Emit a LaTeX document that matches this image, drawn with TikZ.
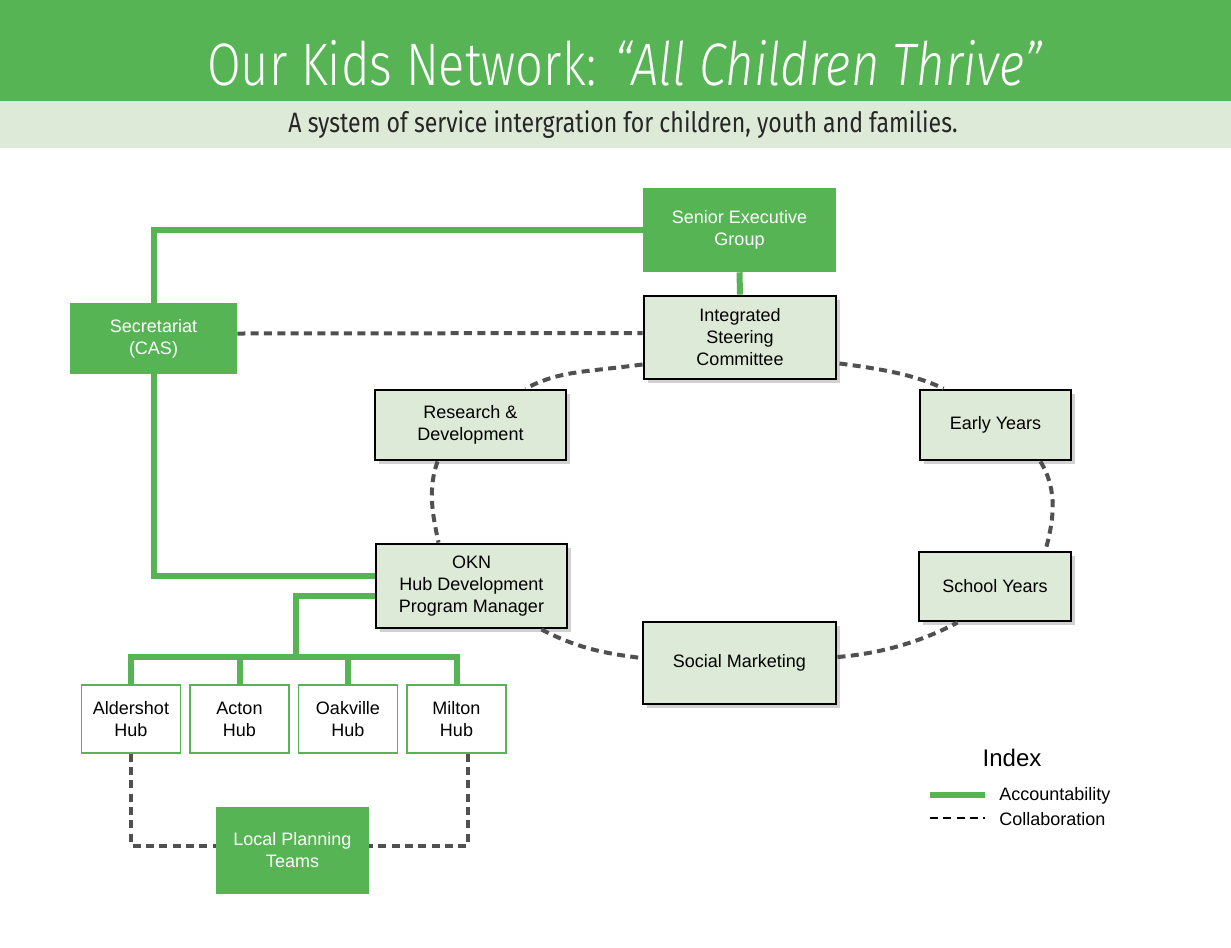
\documentclass[tikz,border=0pt]{standalone}
\usepackage{fontspec}
\setmainfont{Liberation Sans}
\newfontfamily\titlefont[FakeStretch=0.815]{Fira Sans Light}
\newfontfamily\subfont[FakeStretch=0.825]{Fira Sans}
\usetikzlibrary{shadows,calc}
\definecolor{okgreen}{RGB}{87,180,85}
\definecolor{oklight}{RGB}{222,234,216}
\definecolor{dashgray}{RGB}{80,80,80}
\begin{document}
\begin{tikzpicture}[x=0.75pt,y=-0.75pt,
  boxfont/.style={font=\fontsize{13.5}{16.5}\selectfont},
  greenbox/.style={boxfont, fill=okgreen, text=white, draw=none, align=center, inner sep=0pt},
  lightbox/.style={boxfont, fill=oklight, draw=black, line width=2.2pt, align=center, inner sep=0pt,
    drop shadow={shadow xshift=3pt, shadow yshift=-3pt, opacity=0.18, fill=black}},
  hubbox/.style={boxfont, fill=white, draw=okgreen, line width=1.1pt, align=center, inner sep=0pt,
    minimum width={99*0.75pt}, minimum height={68*0.75pt}},
  acc/.style={draw=okgreen, line width=4.5pt},
  col/.style={draw=dashgray, line width=3pt, dash pattern=on 6pt off 4pt},
  legcol/.style={draw=black, line width=2pt, dash pattern=on 6pt off 4pt},
]
\useasboundingbox (0,0) rectangle (1231,947);
\fill[white] (0,0) rectangle (1231,947);
\fill[okgreen] (0,0) rectangle (1231,101);
\fill[oklight] (0,101) rectangle (1231,148);

\node[anchor=base, text=white, inner sep=0pt, font=\titlefont\fontsize{45}{50}\selectfont] (title) at (625,85)
  {Our Kids Network: \textit{“All Children Thrive”}};
\node[anchor=base, text=black!85, inner sep=0pt, font=\subfont\fontsize{21}{24}\selectfont] (sub) at (623,132)
  {A system of service intergration for children, youth and families.};

% boxes
\node[greenbox, minimum width={193*0.75pt}, minimum height={84*0.75pt}] (seg) at (739.5,230) {Senior Executive\\Group};
\node[lightbox, minimum width={192*0.75pt}, minimum height={83*0.75pt}] (isc) at (740,337.5) {Integrated\\Steering\\Committee};
\node[greenbox, minimum width={167*0.75pt}, minimum height={71*0.75pt}] (sec) at (153.5,338.5) {Secretariat\\(CAS)};
\node[lightbox, minimum width={191*0.75pt}, minimum height={70*0.75pt}] (rd) at (470.5,425) {Research \&\\Development};
\node[lightbox, minimum width={151*0.75pt}, minimum height={70*0.75pt}] (ey) at (995.5,425) {Early Years};
\node[lightbox, minimum width={191*0.75pt}, minimum height={84*0.75pt}] (okn) at (471.5,586) {OKN\\Hub Development\\Program Manager};
\node[lightbox, minimum width={152*0.75pt}, minimum height={69*0.75pt}] (sy) at (995,586.5) {School Years};
\node[lightbox, minimum width={193*0.75pt}, minimum height={82*0.75pt}] (sm) at (739.5,663) {Social Marketing};
\node[hubbox] (ald) at (131,719) {Aldershot\\Hub};
\node[hubbox] (act) at (239.5,719) {Acton\\Hub};
\node[hubbox] (oak) at (348,719) {Oakville\\Hub};
\node[hubbox] (mil) at (456.5,719) {Milton\\Hub};
\node[greenbox, minimum width={153*0.75pt}, minimum height={87*0.75pt}] (lpt) at (292.5,850.5) {Local Planning\\Teams};

% accountability lines
\draw[acc] (seg.west) -| (sec.north);
\draw[acc] (sec.south) |- ($(okn.west)+(0,-10)$);
\draw[acc] (seg.south) -- (isc.north);
\coordinate (hb) at (296,657);
\draw[acc] ($(okn.west)+(0,10)$) -| (hb);
\draw[acc] (ald.north) |- (hb) -| (mil.north);
\draw[acc] (act.north) -- (act.north |- hb);
\draw[acc] (oak.north) -- (oak.north |- hb);

% collaboration lines
\draw[col] ($(sec.east)+(0,-5)$) -- ($(isc.west)+(0,-4.5)$);
\draw[col] ($(isc.south west)+(0,-16)$) .. controls +(-60,8) and +(35,-18) .. ($(rd.north east)+(-42,0)$);
\draw[col] ($(isc.south east)+(2,-17)$) .. controls +(45,6) and +(-30,-14) .. ($(ey.north west)+(25,0)$);
\draw[col] ($(ey.south east)+(-32,0)$) .. controls +(18,30) and +(8,-30) .. ($(sy.north east)+(-27,0)$);
\draw[col] ($(rd.south west)+(64,0)$) .. controls +(-10,28) and +(-6,-28) .. ($(okn.north west)+(64,0)$);
\draw[col] ($(okn.south east)+(-27,0)$) .. controls +(35,18) and +(-40,-5) .. ($(sm.west)+(0,-5)$);
\draw[col] ($(sm.east)+(0,-6)$) .. controls +(50,-4) and +(-30,16) .. ($(sy.south west)+(40,0)$);

\draw[col] (ald.south) |- ($(lpt.west)+(0,-5)$);
\draw[col] ($(act.south)+(17,0)$) -- ($(act.south)+(17,0)$ |- lpt.north);
\draw[col] ($(oak.south)+(-18,0)$) -- ($(oak.south)+(-18,0)$ |- lpt.north);
\draw[col] ($(mil.south)+(11.5,0)$) |- ($(lpt.east)+(0,-5)$);

% legend
\node[font=\fontsize{18}{20}\selectfont] (idx) at (1012,758) {Index};
\coordinate (la1) at (930,795);
\coordinate (la2) at (985,795);
\coordinate (lc1) at (930,818);
\coordinate (lc2) at (985,818);
\draw[acc] (la1) -- (la2);
\draw[legcol] (lc1) -- (lc2);
\node[anchor=west, inner sep=0pt, font=\fontsize{13.5}{15}\selectfont] (lacc) at (999,796) {Accountability};
\node[anchor=west, inner sep=0pt, font=\fontsize{13.5}{15}\selectfont] (lcol) at (999,819) {Collaboration};
\end{tikzpicture}
\end{document}
